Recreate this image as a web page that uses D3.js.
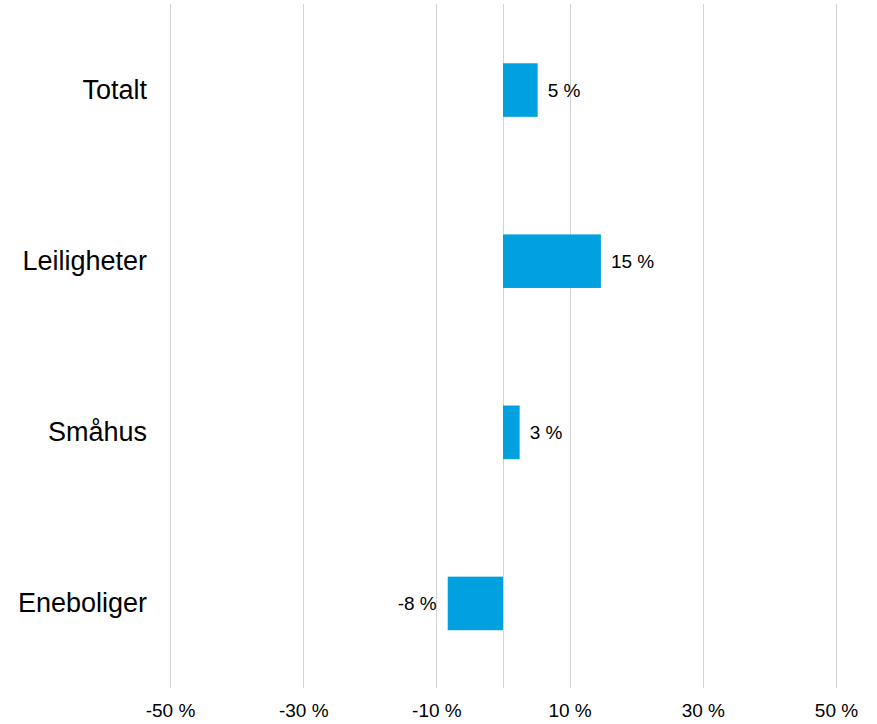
<!DOCTYPE html>
<html>
<head>
<meta charset="utf-8">
<script src="https://cdn.jsdelivr.net/npm/d3@7"></script>
<style>
    body { margin: 0; background: #fff; }
    svg { display: block; font-family: "Liberation Sans", Arial, sans-serif; }
</style>
</head>
<body>
<svg width="877" height="724"></svg>
<script>
const categories = ["Totalt", "Leiligheter", "Småhus", "Eneboliger"]
const values = [5.2, 14.7, 2.5, -8.3]
const value_labels = ["5 %", "15 %", "3 %", "-8 %"]
const tick_values = [-50, -30, -10, 10, 30, 50]

const svg = d3.select("svg")

const x = d3.scaleLinear().domain([-50, 50]).range([170, 836])
const y = d3.scaleBand()
    .domain(categories)
    .range([4.5, 689])
    .paddingInner(0.687)
    .paddingOuter(0.3435)

// Gridlines, including the zero line
svg.append("g")
    .selectAll("line")
    .data(tick_values.concat([0]))
    .enter()
    .append("line")
    .attr("x1", d => Math.round(x(d)) + 0.5)
    .attr("x2", d => Math.round(x(d)) + 0.5)
    .attr("y1", 4)
    .attr("y2", 688)
    .style("stroke", "#d4d4d4")
    .style("stroke-width", 1)

// Bars
svg.append("g")
    .selectAll("rect")
    .data(values)
    .enter()
    .append("rect")
    .attr("x", d => x(Math.min(0, d)))
    .attr("width", d => Math.abs(x(d) - x(0)))
    .attr("y", (d, i) => y(categories[i]))
    .attr("height", y.bandwidth())
    .style("fill", "#00a1de")

// Value labels
svg.append("g")
    .selectAll("text")
    .data(values)
    .enter()
    .append("text")
    .attr("x", d => d < 0 ? x(d) - 11 : x(d) + 10)
    .attr("y", (d, i) => y(categories[i]) + y.bandwidth() / 2)
    .attr("dy", "0.35em")
    .attr("text-anchor", d => d < 0 ? "end" : "start")
    .style("font-size", "19px")
    .style("fill", "#000")
    .text((d, i) => value_labels[i])

// Category labels
svg.append("g")
    .selectAll("text")
    .data(categories)
    .enter()
    .append("text")
    .attr("x", 147)
    .attr("y", d => y(d) + y.bandwidth() / 2)
    .attr("dy", "0.33em")
    .attr("text-anchor", "end")
    .style("font-size", "27px")
    .style("fill", "#000")
    .text(d => d)

// Bottom axis tick labels
const x_axis = d3.axisBottom(x)
    .tickValues(tick_values)
    .tickSize(0)
    .tickPadding(0)
    .tickFormat(d => d + " %")

const ax = svg.append("g")
    .attr("transform", "translate(0,703)")
    .call(x_axis)
ax.select(".domain").remove()
ax.selectAll("text")
    .attr("dy", "0.71em")
    .style("font-size", "19px")
    .style("font-family", "\"Liberation Sans\", Arial, sans-serif")
    .style("fill", "#000")
</script>
</body>
</html>
